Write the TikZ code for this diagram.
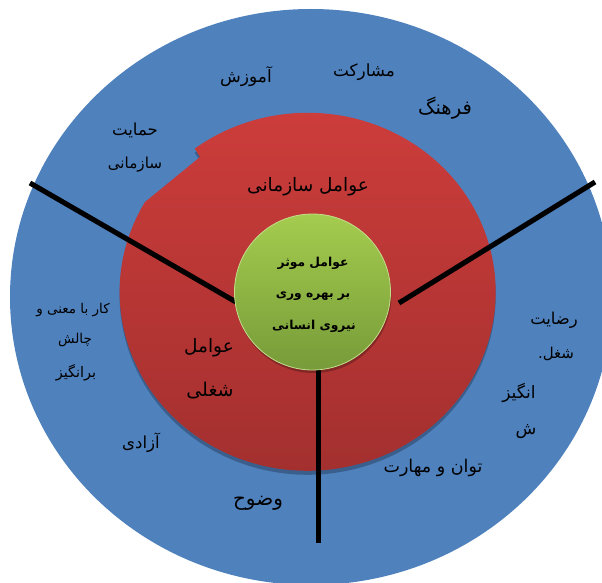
\documentclass[tikz,border=0pt]{standalone}
\usepackage{fontspec}
\newfontfamily\arabicfont[Script=Arabic]{DejaVu Sans}
\TeXXeTstate=1
\newcommand\setfsz[1]{\fontsize{#1}{#1}\selectfont}
\definecolor{bluebg}{HTML}{4F81BD}
\definecolor{blueshadow}{HTML}{3B5F8D}
\definecolor{redtop}{HTML}{CD3D3B}
\definecolor{redbottom}{HTML}{A02F2E}
\definecolor{greentop}{HTML}{A4CC4E}
\definecolor{greenbottom}{HTML}{779B39}
\definecolor{greenrim}{HTML}{C4DE8C}
\begin{document}
\begin{tikzpicture}[x=1pt,y=-1pt,
  lbl/.style={font=\arabicfont\setfsz{#1}, text=black, inner sep=0pt},
  lbl/.default=16,
  redlbl/.style={font=\arabicfont\setfsz{#1}, text=black, inner sep=0pt},
  redlbl/.default=18.5,
  corelbl/.style={font=\arabicfont\bfseries\setfsz{12.3}, text=black, inner sep=0pt},
  spoke/.style={line width=5pt, black},
  spokeshadow/.style={line width=5pt, black, opacity=0.3}
]
\useasboundingbox (0,0) rectangle (602,583);
\clip (0,0) rectangle (602,583);
% outer blue ring
\fill[bluebg] (311,297) ellipse [x radius=301, y radius=288];
% shadow of red ring
\fill[blueshadow] (145,206) arc[start angle=-149.9, end angle=-486.9, x radius=188, y radius=179] -- (200,161) -- cycle;
% red ring with notch
\path[top color=redtop, bottom color=redbottom]
  (145,202) arc[start angle=-149.9, end angle=-486.9, x radius=188, y radius=179] -- (200,157) -- cycle;
% spokes
\coordinate (ulout) at (30,183);
\coordinate (ulin) at (236,302);
\coordinate (urout) at (595,182);
\coordinate (urin) at (399,303);
\coordinate (bin) at (318,369);
\coordinate (bout) at (318,543);
\begin{scope}[shift={(1.5,2.5)}]
\draw[spokeshadow] (ulout) -- (ulin);
\draw[spokeshadow] (urout) -- (urin);
\draw[spokeshadow] (bin) -- (bout);
\end{scope}
\draw[spoke] (ulout) -- (ulin);
\draw[spoke] (urout) -- (urin);
\draw[spoke] (bin) -- (bout);
% green core
\fill[black, opacity=0.25] (313.5,295) circle [radius=78];
\node[circle, minimum size=156pt, inner sep=0pt, top color=greentop, bottom color=greenbottom, draw=greenrim, line width=0.8pt] (core) at (312.5,292) {};
\node[corelbl] (c1) at (313,263) {\beginR عوامل موثر\endR};
\node[corelbl] (c2) at (313,296) {\beginR بر بهره وری\endR};
\node[corelbl] (c3) at (314,326) {\beginR نیروی انسانی\endR};
% red labels
\node[redlbl=18.5] (org) at (308,187) {\beginR عوامل سازمانی\endR};
\node[redlbl=18.5] (job1) at (209,348) {\beginR عوامل\endR};
\node[redlbl=19] (job2) at (210,391) {\beginR شغلی\endR};
% blue labels
\node[lbl=16.8] (mosharekat) at (364,72) {\beginR مشارکت\endR};
\node[lbl=17] (amoozesh) at (246,77) {\beginR آموزش\endR};
\node[lbl=19.5] (farhang) at (445,108) {\beginR فرهنگ\endR};
\node[lbl=16.6] (hemayat) at (135,130) {\beginR حمایت\endR};
\node[lbl=15.2] (sazmani) at (135,165) {\beginR سازمانی\endR};
\node[lbl=13.5] (kar) at (73,310) {\beginR کار با معنی و\endR};
\node[lbl=13.5] (chalesh) at (75,340) {\beginR چالش\endR};
\node[lbl=14.5] (barangiz) at (76,373) {\beginR برانگیز\endR};
\node[lbl=16.4] (rezayat) at (554,320) {\beginR رضایت\endR};
\node[lbl=15] (shoghl) at (556,354) {\beginR شغل.\endR};
\node[lbl=17] (angiz) at (519,393) {\beginR انگیز\endR};
\node[lbl=17] (sh) at (526,432) {\beginR ش\endR};
\node[lbl=17.5] (tavan) at (433,468) {\beginR توان و مهارت\endR};
\node[lbl=20] (vozooh) at (258,503) {\beginR وضوح\endR};
\node[lbl=16.6] (azadi) at (141,443) {\beginR آزادی\endR};
\end{tikzpicture}
\end{document}
